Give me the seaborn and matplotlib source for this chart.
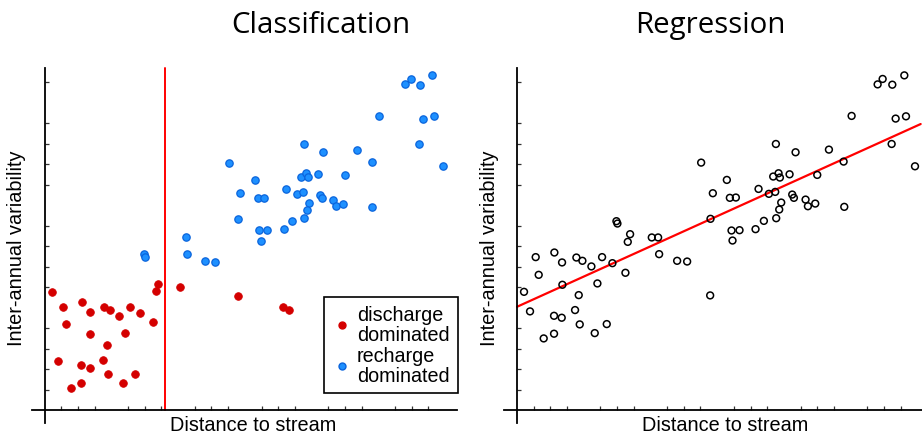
import numpy as np
import pandas as pd
import matplotlib
matplotlib.use("Agg")
import matplotlib.pyplot as plt
from matplotlib.ticker import FixedLocator, NullLocator
from matplotlib.lines import Line2D
import seaborn as sns

# ---- data -------------------------------------------------------------
discharge_x = [0.11, 0.275, 0.325, 0.20, 0.40, 0.55, 0.55, 0.565, 0.675, 0.675,
               0.68, 0.895, 0.985, 0.875, 0.93, 0.945, 1.115, 1.17, 1.21, 1.285,
               1.355, 1.435, 1.63, 1.665, 1.70, 2.025, 2.90, 3.57, 3.66]
discharge_y = [1.154, 1.008, 0.836, 0.475, 0.211, 0.260, 0.436, 1.050, 0.953, 0.413,
               0.738, 1.005, 0.972, 0.488, 0.634, 0.351, 0.917, 0.267, 0.748, 1.008,
               0.354, 0.946, 0.855, 1.158, 1.229, 1.200, 1.115, 1.005, 0.972]

recharge_x = [1.495, 1.51, 2.115, 2.135, 2.405, 2.56, 2.765, 2.90, 2.935, 3.145,
              3.19, 3.285, 3.215, 3.335, 3.235, 3.58, 3.62, 3.705, 3.775, 3.875,
              3.885, 3.84, 3.92, 3.94, 3.965, 3.935, 3.89, 4.095, 4.175, 4.125,
              4.155, 4.325, 4.365, 4.465, 4.505, 4.68, 4.90, 4.91, 5.015, 5.405,
              5.485, 5.63, 5.81, 5.675, 5.835, 5.615, 5.97]
recharge_y = [1.522, 1.499, 1.685, 1.522, 1.457, 1.450, 2.416, 1.867, 2.117, 2.247,
              2.072, 2.075, 1.753, 1.756, 1.655, 1.766, 2.159, 1.847, 2.111, 2.130,
              2.598, 2.280, 2.312, 2.273, 2.026, 1.958, 1.873, 2.302, 2.517, 2.104,
              2.072, 2.055, 1.990, 2.016, 2.296, 2.543, 2.426, 1.984, 2.872, 3.180,
              3.233, 3.177, 3.268, 2.846, 2.868, 2.598, 2.380]

regression_x = [0.105, 0.195, 0.28, 0.325, 0.40, 0.555, 0.555, 0.56, 0.67, 0.675,
                0.68, 0.87, 0.89, 0.925, 0.94, 0.98, 1.115, 1.165, 1.205, 1.275,
                1.345, 1.43, 1.49, 1.505, 1.625, 1.66, 1.695, 2.02, 2.115, 2.13,
                2.40, 2.55, 2.76, 2.895, 2.90, 2.935, 3.145, 3.19, 3.28, 3.215,
                3.335, 3.23, 3.575, 3.62, 3.70, 3.775, 3.87, 3.88, 3.84, 3.92,
                3.94, 3.96, 3.93, 3.885, 4.085, 4.175, 4.125, 4.15, 4.325, 4.36,
                4.47, 4.50, 4.675, 4.895, 4.905, 5.015, 5.405, 5.48, 5.625, 5.805,
                5.675, 5.83, 5.615, 5.965]
regression_y = [1.154, 0.963, 1.493, 1.320, 0.699, 0.745, 0.920, 1.538, 0.901, 1.441,
                1.223, 0.976, 1.489, 1.122, 0.836, 1.457, 1.402, 0.751, 1.236, 1.493,
                0.839, 1.434, 1.844, 1.821, 1.340, 1.642, 1.717, 1.685, 1.685, 1.522,
                1.457, 1.450, 2.416, 1.119, 1.867, 2.117, 2.247, 2.072, 2.075, 1.753,
                1.756, 1.655, 1.766, 2.159, 1.847, 2.111, 2.130, 2.598, 2.280, 2.312,
                2.270, 2.026, 1.958, 1.873, 2.302, 2.517, 2.104, 2.072, 2.055, 1.990,
                2.016, 2.296, 2.543, 2.426, 1.984, 2.872, 3.180, 3.233, 3.177, 3.268,
                2.846, 2.868, 2.598, 2.380]

class_labels = ["discharge\ndominated", "recharge\ndominated"]
threshold_x = 1.8          # decision boundary of the classifier
fit_intercept = 1.008      # fitted regression line
fit_slope = 0.295
fit_range = [0.0, 6.05]    # extent of the fitted regression line

# ---- styling ----------------------------------------------------------
sns.set_style("white")
plt.rcParams["font.family"] = ["Liberation Sans", "DejaVu Sans"]
plt.rcParams["text.color"] = "black"

RED = "#d40000"
BLUE = "#1e90ff"
BLUE_EDGE = "#0a64dc"

fig = plt.figure(figsize=(9.22, 4.35), dpi=100)
W, H = 922, 435


def px_axes(x0, x1, y0, y1):
    """Create axes from pixel extents (top-left origin)."""
    return fig.add_axes([x0 / W, (H - y1) / H, (x1 - x0) / W, (y1 - y0) / H])


def style_axes(ax, xlim):
    ax.set_xlim(*xlim)
    ax.set_ylim(-0.127, 3.34)
    for s in ("top", "right"):
        ax.spines[s].set_visible(False)
    for s in ("left", "bottom"):
        ax.spines[s].set_position(("data", 0))
        ax.spines[s].set_color("black")
        ax.spines[s].set_linewidth(1.3)
    ax.xaxis.set_major_locator(NullLocator())
    ax.yaxis.set_major_locator(NullLocator())
    xt = [v for v in np.arange(0.25, 6.0, 0.25) if abs(v - round(v)) > 1e-6]
    yt = [v for v in np.arange(0.2, 3.3, 0.2) if abs(v - round(v)) > 1e-6]
    ax.xaxis.set_minor_locator(FixedLocator(xt))
    ax.yaxis.set_minor_locator(FixedLocator(yt))
    ax.tick_params(which="minor", direction="in", length=3, width=0.9,
                   color="#333333", bottom=True, left=True)
    ax.set_xlabel("")
    ax.set_ylabel("")
    ax.patch.set_alpha(0)


# ---- left panel: classification --------------------------------------
ax1 = px_axes(32, 457, 69, 424)
df_cls = pd.DataFrame({
    "x": discharge_x + recharge_x,
    "y": discharge_y + recharge_y,
    "cls": [class_labels[0]] * len(discharge_x) + [class_labels[1]] * len(recharge_x),
})
sns.scatterplot(data=df_cls[df_cls.cls == class_labels[0]], x="x", y="y",
                color=RED, edgecolor=RED, linewidth=0.6, s=30, ax=ax1,
                legend=False, zorder=3)
sns.scatterplot(data=df_cls[df_cls.cls == class_labels[1]], x="x", y="y",
                color=BLUE, edgecolor=BLUE_EDGE, linewidth=0.9, s=28, ax=ax1,
                legend=False, zorder=3)
ax1.plot([threshold_x, threshold_x], [0, 3.34], color="red", lw=1.4, zorder=2,
         clip_on=False)
style_axes(ax1, (-0.19, 6.18))

handles = [
    Line2D([], [], ls="none", marker="o", ms=5.0, mfc=RED, mec=RED),
    Line2D([], [], ls="none", marker="o", ms=5.0, mfc=BLUE, mec=BLUE_EDGE),
]
leg = ax1.legend(handles, class_labels, loc="upper left",
                 bbox_to_anchor=(324 / W, (H - 298) / H),
                 bbox_transform=fig.transFigure, frameon=True, fancybox=False,
                 edgecolor="black", framealpha=1, fontsize=14.2,
                 handletextpad=0.3, handlelength=0.95, borderpad=0.42,
                 labelspacing=0.12, borderaxespad=0)
leg.get_frame().set_linewidth(1.2)
for t in leg.get_texts():
    t.set_linespacing(1.05)

# ---- right panel: regression -----------------------------------------
ax2 = px_axes(504, 922, 69, 424)
df_reg = pd.DataFrame({"x": regression_x, "y": regression_y})
sns.scatterplot(data=df_reg, x="x", y="y", facecolor="none", edgecolor="black",
                linewidth=1.1, s=24, ax=ax2, zorder=3)
line_x = np.array(fit_range)
sns.lineplot(x=line_x, y=fit_intercept + fit_slope * line_x, color="red", lw=1.6,
             ax=ax2, zorder=2)
style_axes(ax2, (-0.195, 6.07))

# ---- text ------------------------------------------------------------
title_font = dict(family=["Open Sans", "DejaVu Sans"], fontsize=21.2)
fig.text(321 / W, (H - 33) / H, "Classification", ha="center", va="baseline",
         **title_font)
fig.text(710 / W, (H - 33) / H, "Regression", ha="center", va="baseline",
         **title_font)

for cx in (253, 725):
    fig.text(cx / W, (H - 431) / H, "Distance to stream", ha="center",
             va="baseline", fontsize=14.3)
for cx in (17, 489):
    fig.text(cx / W, (H - 248) / H, "Inter-annual variability", ha="center",
             va="center", rotation=90, fontsize=14.3)

fig.savefig("out.png", dpi=100)
